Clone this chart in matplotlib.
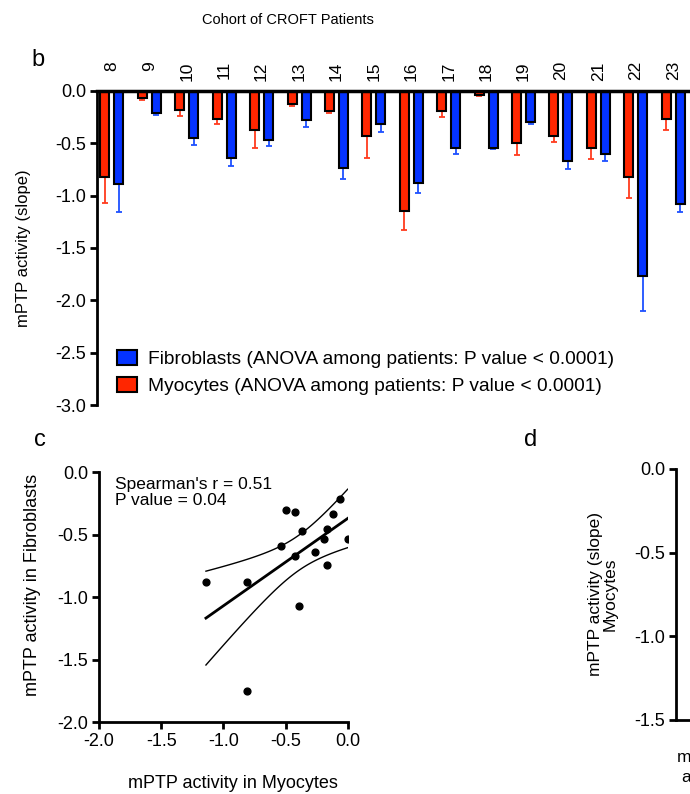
import numpy as np
import matplotlib.pyplot as plt
from matplotlib.patches import Patch

plt.rcParams['font.family'] = ['Liberation Sans', 'DejaVu Sans']

# bar panel data (mean slope and SEM per patient)
patients = [8, 9, 10, 11, 12, 13, 14, 15, 16, 17, 18, 19, 20, 21, 22, 23]
myocytes = [-0.82, -0.07, -0.18, -0.27, -0.37, -0.12, -0.19, -0.43,
            -1.15, -0.19, -0.04, -0.50, -0.43, -0.54, -0.82, -0.27]
myocytes_err = [0.25, 0.02, 0.06, 0.05, 0.17, 0.02, 0.02, 0.21,
                0.18, 0.06, 0.01, 0.11, 0.06, 0.11, 0.20, 0.10]
fibroblasts = [-0.89, -0.21, -0.45, -0.64, -0.47, -0.28, -0.74, -0.32,
               -0.88, -0.54, -0.54, -0.30, -0.67, -0.60, -1.77, -1.08]
fibroblasts_err = [0.27, 0.02, 0.07, 0.08, 0.06, 0.06, 0.10, 0.07,
                   0.09, 0.06, 0.01, 0.02, 0.08, 0.07, 0.33, 0.08]

# scatter panel data
sc_myo = [-1.14, -0.81, -0.81, -0.50, -0.42, -0.37, -0.54, -0.42,
          -0.39, -0.26, -0.19, -0.17, -0.17, -0.12, -0.06, 0.0]
sc_fib = [-0.88, -0.88, -1.75, -0.30, -0.32, -0.47, -0.59, -0.67,
          -1.07, -0.64, -0.53, -0.45, -0.74, -0.33, -0.21, -0.53]

red = '#ff2600'
blue = '#0433ff'

fig = plt.figure(figsize=(6.9, 7.94), dpi=100)
W, H = 690.0, 794.0

# ---- panel b ----
ax = fig.add_axes([97 / W, 1 - 405 / H, 1 - 97 / W, 314 / H])
x = np.array(patients, dtype=float)
off = 0.187
bw = 0.24
ax.errorbar(x - off, myocytes, yerr=[myocytes_err, np.zeros(len(x))], fmt='none',
            ecolor='#ff3b1e', elinewidth=1.3, capsize=2.5, capthick=1.3, zorder=1)
ax.errorbar(x + off, fibroblasts, yerr=[fibroblasts_err, np.zeros(len(x))], fmt='none',
            ecolor='#1e50ff', elinewidth=1.3, capsize=2.5, capthick=1.3, zorder=1)
ax.bar(x - off, myocytes, bw, color=red, edgecolor='black', linewidth=1.5, zorder=2)
ax.bar(x + off, fibroblasts, bw, color=blue, edgecolor='black', linewidth=1.5, zorder=2)
ax.set_xlim(7.6, 23.45)
ax.set_ylim(-3.0, 0.0)
ax.set_yticks([0.0, -0.5, -1.0, -1.5, -2.0, -2.5, -3.0])
ax.set_yticklabels(['0.0', '-0.5', '-1.0', '-1.5', '-2.0', '-2.5', '-3.0'])
ax.set_xticks([])
for s in ['right', 'bottom']:
    ax.spines[s].set_visible(False)
ax.spines['left'].set_linewidth(2)
ax.spines['top'].set_linewidth(2.5)
ax.spines['top'].set_zorder(3)
ax.tick_params(axis='y', direction='out', length=5, width=2, labelsize=13, pad=3)
ax.set_ylabel('mPTP activity (slope)', fontsize=12, labelpad=17)
for p in patients:
    ax.text(p, 1.095, str(p), transform=ax.get_xaxis_transform(), rotation=90,
            ha='center', va='top', fontsize=12.5)
handles = [Patch(facecolor=blue, edgecolor='black', linewidth=1.5),
           Patch(facecolor=red, edgecolor='black', linewidth=1.5)]
ax.legend(handles, ['Fibroblasts (ANOVA among patients: P value < 0.0001)',
                    'Myocytes (ANOVA among patients: P value < 0.0001)'],
          loc='upper left', bbox_to_anchor=(0.02, 0.2), frameon=False,
          fontsize=13.8, handlelength=1.05, handleheight=0.85, handletextpad=0.6,
          labelspacing=0.45, borderaxespad=0)
fig.text(288 / W, 1 - 20 / H, 'Cohort of CROFT Patients', ha='center', va='center', fontsize=10.5)
fig.text(31 / W, 1 - 60 / H, 'b', fontsize=17, va='center')

# ---- panel c ----
ac = fig.add_axes([99 / W, 1 - 722.3 / H, 248.7 / W, 250 / H])
ac.scatter(sc_myo, sc_fib, s=24, color='black', zorder=3)
xm = np.array(sc_myo)
ym = np.array(sc_fib)
slope, icpt = np.polyfit(xm, ym, 1)
xs = np.linspace(xm.min(), xm.max(), 100)
yh = slope * xs + icpt
n = len(xm)
resid = ym - (slope * xm + icpt)
s_err = np.sqrt(np.sum(resid ** 2) / (n - 2))
sxx = np.sum((xm - xm.mean()) ** 2)
band = 1.761 * s_err * np.sqrt(1.0 / n + (xs - xm.mean()) ** 2 / sxx)  # 90% CI
ac.plot(xs, yh, color='black', lw=2)
ac.plot(xs, yh + band, color='black', lw=1)
ac.plot(xs, yh - band, color='black', lw=1)
ac.set_xlim(-2.0, 0.0)
ac.set_ylim(-2.0, 0.0)
ac.set_xticks([-2.0, -1.5, -1.0, -0.5, 0.0])
ac.set_xticklabels(['-2.0', '-1.5', '-1.0', '-0.5', '0.0'])
ac.set_yticks([0.0, -0.5, -1.0, -1.5, -2.0])
ac.set_yticklabels(['0.0', '-0.5', '-1.0', '-1.5', '-2.0'])
for s in ['right', 'top']:
    ac.spines[s].set_visible(False)
for s in ['left', 'bottom']:
    ac.spines[s].set_linewidth(2)
ac.tick_params(direction='out', length=5, width=2, labelsize=13, pad=3)
ac.set_xlabel('mPTP activity in Myocytes', fontsize=13, labelpad=20)
ac.xaxis.set_label_coords(0.54, -0.21)
ac.set_ylabel('mPTP activity in Fibroblasts', fontsize=13, labelpad=8)
ac.yaxis.set_label_coords(-0.235, 0.55)
ac.text(0.065, 0.98, "Spearman's r = 0.51\nP value = 0.04", transform=ac.transAxes,
        ha='left', va='top', fontsize=12.5, linespacing=1.05)
fig.text(34 / W, 1 - 440 / H, 'c', fontsize=17, va='center')

# ---- panel d (cut off at right edge) ----
ad = fig.add_axes([676 / W, 1 - 720 / H, 0.3, 251 / H])
ad.set_ylim(-1.5, 0.0)
ad.set_xlim(0, 1)
ad.set_yticks([0.0, -0.5, -1.0, -1.5])
ad.set_yticklabels(['0.0', '-0.5', '-1.0', '-1.5'])
ad.set_xticks([])
for s in ['right', 'top']:
    ad.spines[s].set_visible(False)
for s in ['left', 'bottom']:
    ad.spines[s].set_linewidth(2)
ad.tick_params(direction='out', length=5, width=2, labelsize=13, pad=3)
ad.set_ylabel('mPTP activity (slope)\nMyocytes', fontsize=12.5, labelpad=12, linespacing=0.95)
fig.text(677 / W, 1 - 757 / H, 'm', fontsize=12.5, va='center', ha='left')
fig.text(681 / W, 1 - 777 / H, 'a', fontsize=12.5, va='center', ha='left')
fig.text(524 / W, 1 - 440 / H, 'd', fontsize=17, va='center')

fig.savefig('out.png', dpi=100)
